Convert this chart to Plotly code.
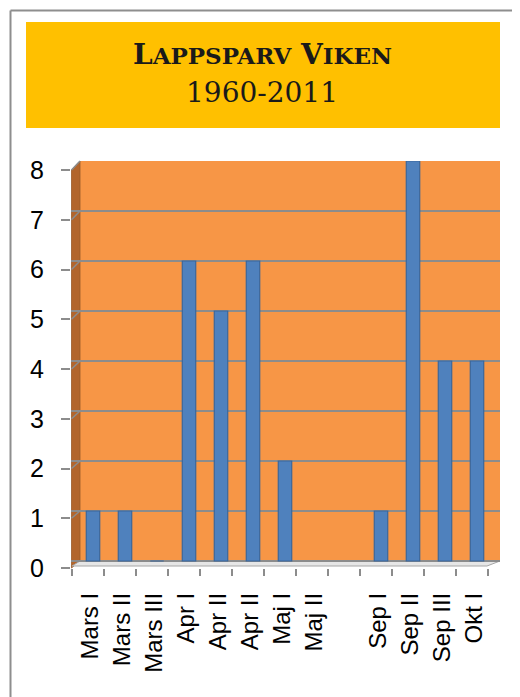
import plotly.graph_objects as go

# ---- data ----
categories = ["Mars I", "Mars II", "Mars III", "Apr I", "Apr II", "Apr II",
              "Maj I", "Maj II", "", "Sep I", "Sep II", "Sep III", "Okt I"]
counts = [1, 1, 0, 6, 5, 6, 2, None, None, 1, 8, 4, 4]
y_ticks = [0, 1, 2, 3, 4, 5, 6, 7, 8]
title_line1 = ("L<span style='font-size:23px'>APPSPARV</span> "
               "V<span style='font-size:23px'>IKEN</span>")
title_line2 = "1960-2011"

positions = list(range(len(categories)))

# ---- layout geometry (pixels, page coords; page body has an 8px margin) ----
OFF = 8
WIDTH, HEIGHT = 520 - OFF, 697 - OFF
PL, PR, PT, PB = 71 - OFF, 500 - OFF, 161 - OFF, 568 - OFF
W, H = PR - PL, PB - PT
STEP = 32.0
FIRST = 93.0 - OFF
DEPTH_X, DEPTH_Y = 9, 7

def fx(p):
    return (p - OFF - PL) / W

def fy(p):
    return (PB - (p - OFF)) / H

def gx(p):
    return (p - PL) / W

def gy(p):
    return (PB - p) / H

r0 = -(FIRST - PL) / STEP
r1 = r0 + W / STEP
back_zero = PB - DEPTH_Y
unit = (back_zero - PT) / 8.0
y_r0 = -(PB - back_zero) / unit
front_unit = (PB - (170 - OFF)) / 8.0
y2_r1 = (PB - PT) / front_unit

fig = go.Figure()

fig.add_trace(go.Bar(
    x=positions, y=counts, width=0.42,
    marker=dict(color="#4F81BD", line=dict(color="#3A679C", width=1.2)),
    hoverinfo="skip", showlegend=False,
))
fig.add_trace(go.Scatter(x=positions, y=counts, xaxis="x2", yaxis="y2",
                         mode="markers", marker=dict(opacity=0),
                         hoverinfo="skip", showlegend=False))
fig.add_trace(go.Scatter(x=positions, y=counts, xaxis="x3", yaxis="y",
                         mode="markers", marker=dict(opacity=0),
                         hoverinfo="skip", showlegend=False))

shapes = []
shapes.append(dict(type="line", xref="paper", yref="paper",
                   x0=fx(10.5), x1=fx(530), y0=fy(10.5), y1=fy(10.5),
                   line=dict(color="#8E8E8E", width=2)))
shapes.append(dict(type="line", xref="paper", yref="paper",
                   x0=fx(10.5), x1=fx(10.5), y0=fy(10.5), y1=fy(710),
                   line=dict(color="#8E8E8E", width=2)))
shapes.append(dict(type="rect", xref="paper", yref="paper",
                   x0=fx(26), x1=fx(500), y0=fy(128), y1=fy(22),
                   fillcolor="#FFC000", line=dict(width=0), layer="below"))
shapes.append(dict(type="rect", xref="paper", yref="paper",
                   x0=gx(PL + DEPTH_X), x1=gx(PR), y0=gy(back_zero), y1=gy(PT),
                   fillcolor="#F79646", line=dict(width=0), layer="below"))
side = (f"M {gx(PL+0.5)} {gy(PT+DEPTH_X)} L {gx(PL+DEPTH_X)} {gy(PT)} "
        f"L {gx(PL+DEPTH_X)} {gy(back_zero)} L {gx(PL+0.5)} {gy(PB)} Z")
shapes.append(dict(type="path", xref="paper", yref="paper", path=side,
                   fillcolor="#B2652C", line=dict(color="#9A5A2A", width=0.8),
                   layer="between"))
for v in y_ticks[1:]:
    yb = back_zero - v * unit
    yf = PB - v * front_unit
    shapes.append(dict(type="line", xref="paper", yref="paper",
                       x0=gx(PL + 0.5), y0=gy(yf), x1=gx(PL + DEPTH_X), y1=gy(yb),
                       line=dict(color="#8C8C8C", width=1.5), layer="between"))
floor = (f"M {gx(PL+1)} {gy(PB-2)} L {gx(PL+DEPTH_X)} {gy(back_zero)} "
         f"L {gx(PR)} {gy(back_zero)} L {fx(487)} {gy(PB-2)} Z")
shapes.append(dict(type="path", xref="paper", yref="paper", path=floor,
                   fillcolor="#E6E6E6", line=dict(color="#A6A6A6", width=1),
                   layer="between"))

fig.update_layout(
    width=WIDTH, height=HEIGHT,
    margin=dict(l=PL, r=WIDTH - PR, t=PT, b=HEIGHT - PB, pad=0),
    paper_bgcolor="white", plot_bgcolor="rgba(0,0,0,0)",
    font=dict(family="Arial, Liberation Sans", color="black"),
    showlegend=False,
    shapes=shapes,
    xaxis=dict(range=[r0, r1], showticklabels=False, showgrid=False,
               zeroline=False, showline=False, ticks=""),
    yaxis=dict(range=[y_r0, 8], tickvals=y_ticks, showticklabels=False,
               showgrid=True, gridcolor="#8C8C8C", gridwidth=1.5,
               zeroline=False, showline=False, ticks=""),
    xaxis2=dict(overlaying="x", anchor="y", side="bottom",
                range=[r0 + 3 / STEP, r1 + 3 / STEP],
                tickmode="array", tickvals=positions, ticktext=categories,
                tickangle=-90, tickfont=dict(size=24, color="black"),
                ticks="", showgrid=False, zeroline=False, showline=False,
                ticklabelstandoff=19),
    xaxis3=dict(overlaying="x", anchor="y", side="bottom",
                range=[r0 + 5.5 / STEP, r1 + 5.5 / STEP],
                tickmode="array",
                tickvals=[p - 0.5 for p in positions] + [positions[-1] + 0.5],
                ticktext=[""] * (len(positions) + 1),
                ticks="outside", ticklen=7, tickwidth=1.5, tickcolor="#8C8C8C",
                showgrid=False, zeroline=False, showline=False),
    yaxis2=dict(overlaying="y", anchor="x", side="left",
                range=[0, y2_r1], tickmode="array", tickvals=y_ticks,
                ticks="outside", ticklen=9, tickwidth=1.5, tickcolor="#8C8C8C",
                tickfont=dict(size=25, color="black"),
                showgrid=False, zeroline=False, showline=False,
                ticklabelstandoff=12),
    annotations=[
        dict(xref="paper", yref="paper", x=fx(262), y=fy(54),
             text="<b>" + title_line1 + "</b>", showarrow=False,
             xanchor="center", yanchor="middle",
             font=dict(family="DejaVu Serif", size=28, color="#1A1A1A")),
        dict(xref="paper", yref="paper", x=fx(262), y=fy(92),
             text=title_line2, showarrow=False, xanchor="center", yanchor="middle",
             font=dict(family="DejaVu Serif", size=28, color="#1A1A1A")),
    ],
)

fig.write_html("out.html")
